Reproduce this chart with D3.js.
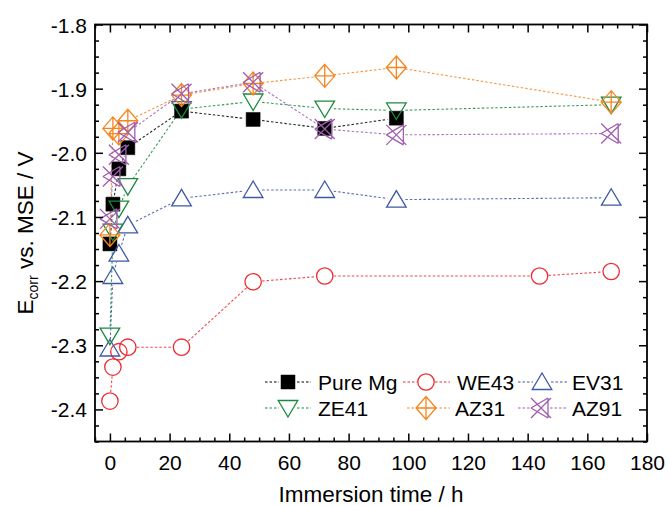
<!DOCTYPE html>
<html><head><meta charset="utf-8">
<script src="https://cdn.jsdelivr.net/npm/d3@7"></script>
<style>body{margin:0;background:#fff} text{font-family:"Liberation Sans",Arial,Helvetica,sans-serif}</style>
</head><body><svg id="c" width="669" height="506"></svg>
<script>
// ---- data ----
const seriesNames = ["Pure Mg", "WE43", "EV31", "ZE41", "AZ31", "AZ91"];
const pureMgTime = [0, 1, 3, 6, 24, 48, 72, 96];
const pureMgE    = [-2.142, -2.080, -2.025, -1.992, -1.935, -1.948, -1.962, -1.946];
const we43Time = [0, 1, 3, 6, 24, 48, 72, 144, 168];
const we43E    = [-2.387, -2.334, -2.310, -2.303, -2.303, -2.201, -2.192, -2.192, -2.185];
const ev31Time = [0, 1, 3, 6, 24, 48, 72, 96, 168];
const ev31E    = [-2.305, -2.192, -2.157, -2.113, -2.071, -2.058, -2.058, -2.073, -2.070];
const ze41Time = [0, 1, 3, 6, 24, 48, 72, 96, 168];
const ze41E    = [-2.285, -2.123, -2.087, -2.052, -1.932, -1.920, -1.931, -1.934, -1.925];
const az31Time = [0, 1, 3, 6, 24, 48, 72, 96, 168];
const az31E    = [-2.128, -1.962, -1.970, -1.950, -1.910, -1.892, -1.880, -1.867, -1.921];
const az91Time = [0, 1, 3, 6, 24, 48, 72, 96, 168];
const az91E    = [-2.103, -2.037, -2.003, -1.968, -1.908, -1.890, -1.963, -1.972, -1.970];
const xTickValues = [0, 20, 40, 60, 80, 100, 120, 140, 160, 180];
const yTickValues = [-2.4, -2.3, -2.2, -2.1, -2.0, -1.9, -1.8];
const xDomain = [-5, 180];
const yDomain = [-2.45, -1.8];
const xTitle = "Immersion time / h";

// ---- styles ----
const colors = {"Pure Mg":"#000000","WE43":"#ec2b30","EV31":"#3d58a8","ZE41":"#1b8a3e","AZ31":"#f7851f","AZ91":"#a05db0"};
const shapes = {"Pure Mg":"square","WE43":"circle","EV31":"triUp","ZE41":"triDown","AZ31":"diamond","AZ91":"xtri"};
const series = [
  {name:"Pure Mg", t:pureMgTime, e:pureMgE},
  {name:"WE43", t:we43Time, e:we43E},
  {name:"EV31", t:ev31Time, e:ev31E},
  {name:"ZE41", t:ze41Time, e:ze41E},
  {name:"AZ31", t:az31Time, e:az31E},
  {name:"AZ91", t:az91Time, e:az91E}
];

const L = 95, R = 647, T = 24.5, B = 441.5;
const svg = d3.select("#c");
const x = d3.scaleLinear().domain(xDomain).range([L, R]);
const y = d3.scaleLinear().domain(yDomain).range([B, T]);

function markerPath(shape){
  const p = d3.path();
  switch(shape){
    case "square": p.rect(-7,-7,14,14); break;
    case "circle": p.arc(0,0,8.2,0,2*Math.PI); break;
    case "triUp": p.moveTo(0,-9); p.lineTo(9.8,7.5); p.lineTo(-9.8,7.5); p.closePath(); break;
    case "triDown": p.moveTo(0,9); p.lineTo(9.8,-7.5); p.lineTo(-9.8,-7.5); p.closePath(); break;
    case "diamond":
      p.moveTo(0,-11.5); p.lineTo(10,0); p.lineTo(0,11.5); p.lineTo(-10,0); p.closePath();
      p.moveTo(0,-11.5); p.lineTo(0,11.5); p.moveTo(-10,0); p.lineTo(10,0); break;
    case "xtri":
      p.moveTo(-10,-10); p.lineTo(10,10); p.moveTo(-10,10); p.lineTo(10,-10);
      p.moveTo(7,-10); p.lineTo(7,10); p.moveTo(-10,0); p.lineTo(7,-10); p.moveTo(-10,0); p.lineTo(7,10); break;
  }
  return p.toString();
}
function drawMarker(g, shape, color, cx, cy){
  const filled = shape === "square";
  g.append("path").attr("d", markerPath(shape)).attr("transform", `translate(${cx},${cy})`)
    .attr("fill", filled ? color : "none").attr("stroke", color)
    .attr("stroke-width", filled ? 0.5 : 1.3).attr("stroke-linejoin","miter");
}

// ---- lines (gapped at markers) ----
const gap = 9;
const lineG = svg.append("g");
series.forEach(s => {
  const pts = s.t.map((t,i)=>[x(t), y(s.e[i])]);
  for(let i=0;i<pts.length-1;i++){
    const [x1,y1] = pts[i], [x2,y2] = pts[i+1];
    const dx = x2-x1, dy = y2-y1, len = Math.hypot(dx,dy);
    if(len <= 2*gap) continue;
    const ux = dx/len, uy = dy/len;
    lineG.append("line")
      .attr("x1", x1+ux*gap).attr("y1", y1+uy*gap)
      .attr("x2", x2-ux*gap).attr("y2", y2-uy*gap)
      .attr("stroke", colors[s.name]).attr("stroke-width", 1.1)
      .attr("stroke-dasharray", "2.5,2").attr("opacity", 0.85);
  }
});

// ---- markers ----
const markG = svg.append("g");
series.forEach(s => {
  s.t.forEach((t,i) => drawMarker(markG, shapes[s.name], colors[s.name], x(t), y(s.e[i])));
});

// ---- axes ----
const xMinor = d3.range(-5, 181, 5).filter(v => v % 20 !== 0);
const yMinor = d3.range(0, 27).map(i => +(-2.45 + i*0.025).toFixed(3)).filter(v => Math.abs(v*10 - Math.round(v*10)) > 1e-6);

function styleAxis(g){
  g.select(".domain").remove();
  g.selectAll(".tick line").attr("stroke","#000").attr("stroke-width",1.5);
}
const fs = 21, fsTitle = 22.5;
// bottom
const gb = svg.append("g").attr("transform",`translate(0,${B})`)
  .call(d3.axisBottom(x).tickValues(xTickValues).tickSizeInner(-8).tickSizeOuter(0).tickPadding(0).tickFormat(d3.format("d")));
styleAxis(gb);
gb.selectAll("text").attr("font-size",fs).attr("fill","#000").attr("y",28).attr("dy",0);
svg.append("g").attr("transform",`translate(0,${B})`)
  .call(d3.axisBottom(x).tickValues(xMinor).tickSizeInner(-4).tickSizeOuter(0).tickFormat(""))
  .call(styleAxis);
// top
svg.append("g").attr("transform",`translate(0,${T})`)
  .call(d3.axisTop(x).tickValues(xTickValues).tickSizeInner(-8).tickSizeOuter(0).tickFormat("")).call(styleAxis);
svg.append("g").attr("transform",`translate(0,${T})`)
  .call(d3.axisTop(x).tickValues(xMinor).tickSizeInner(-4).tickSizeOuter(0).tickFormat("")).call(styleAxis);
// left
const gl = svg.append("g").attr("transform",`translate(${L},0)`)
  .call(d3.axisLeft(y).tickValues(yTickValues).tickSizeInner(-8).tickSizeOuter(0).tickPadding(0).tickFormat(d3.format(".1f")));
styleAxis(gl);
gl.selectAll("text").attr("font-size",fs).attr("fill","#000").attr("x",-8).attr("dy","0.36em")
  .text(d => d3.format(".1f")(d).replace("\u2212","-"));
svg.append("g").attr("transform",`translate(${L},0)`)
  .call(d3.axisLeft(y).tickValues(yMinor).tickSizeInner(-4).tickSizeOuter(0).tickFormat("")).call(styleAxis);
// right
svg.append("g").attr("transform",`translate(${R},0)`)
  .call(d3.axisRight(y).tickValues(yTickValues).tickSizeInner(-8).tickSizeOuter(0).tickFormat("")).call(styleAxis);
svg.append("g").attr("transform",`translate(${R},0)`)
  .call(d3.axisRight(y).tickValues(yMinor).tickSizeInner(-4).tickSizeOuter(0).tickFormat("")).call(styleAxis);

// frame
svg.append("rect").attr("x",L).attr("y",T).attr("width",R-L).attr("height",B-T)
  .attr("fill","none").attr("stroke","#000").attr("stroke-width",1.8);

// titles
svg.append("text").attr("x",371).attr("y",502).attr("text-anchor","middle")
  .attr("font-size",fsTitle).attr("fill","#000").text(xTitle);
const yt = svg.append("text").attr("transform",`translate(33,${(T+B)/2}) rotate(-90)`)
  .attr("text-anchor","middle").attr("font-size",fsTitle).attr("fill","#000");
yt.append("tspan").text("E");
yt.append("tspan").attr("font-size",14).attr("dy",5).text("corr");
yt.append("tspan").attr("dy",-5).text(" vs. MSE / V");

// legend
const legendItems = [
  {name:"Pure Mg", mx:288, tx:318, ly:382, l1:265, l2:311},
  {name:"WE43",    mx:426, tx:457, ly:382, l1:403, l2:450},
  {name:"EV31",    mx:542, tx:572, ly:382, l1:518, l2:568},
  {name:"ZE41",    mx:288, tx:318, ly:408, l1:265, l2:311},
  {name:"AZ31",    mx:426, tx:455, ly:408, l1:407, l2:450},
  {name:"AZ91",    mx:541, tx:572, ly:408, l1:518, l2:568}
];
const lg = svg.append("g");
legendItems.forEach(it => {
  const c = colors[it.name];
  lg.append("line").attr("x1",it.l1).attr("x2",it.mx-9).attr("y1",it.ly).attr("y2",it.ly)
    .attr("stroke",c).attr("stroke-width",1.1).attr("stroke-dasharray","2.5,2");
  lg.append("line").attr("x1",it.mx+9).attr("x2",it.l2).attr("y1",it.ly).attr("y2",it.ly)
    .attr("stroke",c).attr("stroke-width",1.1).attr("stroke-dasharray","2.5,2");
  drawMarker(lg, shapes[it.name], c, it.mx, it.ly);
  lg.append("text").attr("x",it.tx).attr("y",it.ly).attr("dy","0.36em").attr("font-size",fs)
    .attr("fill","#000").text(it.name);
});
</script></body></html>
